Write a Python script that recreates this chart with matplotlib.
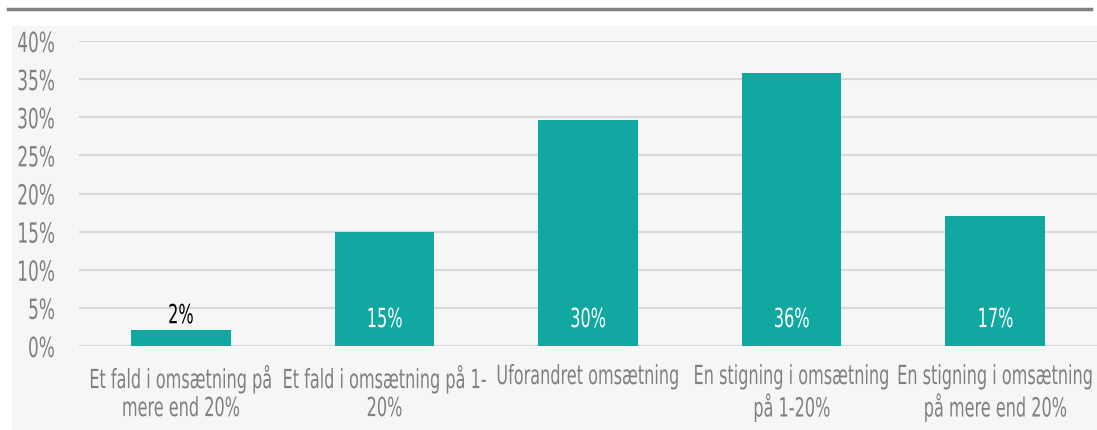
import matplotlib.pyplot as plt
from matplotlib.patches import Rectangle
from matplotlib.lines import Line2D
from matplotlib.ticker import PercentFormatter
from matplotlib.patheffects import AbstractPathEffect
from matplotlib.transforms import Affine2D

categories = ["Et fald i omsætning på\nmere end 20%",
              "Et fald i omsætning på 1-\n20%",
              "Uforandret omsætning",
              "En stigning i omsætning\npå 1-20%",
              "En stigning i omsætning\npå mere end 20%"]
values = [0.021, 0.150, 0.296, 0.358, 0.170]
labels = ["2%", "15%", "30%", "36%", "17%"]
yticks = [0, 0.05, 0.10, 0.15, 0.20, 0.25, 0.30, 0.35, 0.40]


# the original uses a very narrow font, so squeeze the glyphs sideways
class Squeeze(AbstractPathEffect):
    def __init__(self, sx, anchor='center'):
        super().__init__()
        self.sx = sx
        self.anchor = anchor

    def draw_path(self, renderer, gc, tpath, affine, rgbFace=None):
        ext = tpath.get_extents(affine)
        cx = ext.x1 if self.anchor == 'right' else (ext.x0 + ext.x1) / 2
        squeeze = Affine2D().translate(-cx, 0).scale(self.sx, 1).translate(cx, 0)
        renderer.draw_path(gc, tpath, affine + squeeze, rgbFace)


plt.rcParams['font.family'] = ['DejaVu Sans']
SX = 0.61

fig = plt.figure(figsize=(10.97, 4.30), dpi=100)

# light background panel and top rule
fig.patches.append(Rectangle((12/1097, 0), 1, 1 - 26/430, transform=fig.transFigure,
                             facecolor='#f6f6f6', edgecolor='none', zorder=-5))
fig.lines.append(Line2D([8/1097, 1091/1097], [1 - 9/430, 1 - 9/430], transform=fig.transFigure,
                        color='#808080', lw=2.5))

ax = fig.add_axes([79/1097, 84/430, 1 - 79/1097, 305/430])
ax.set_facecolor('none')
ax.set_zorder(2)

bar_color = '#12a8a2'
x = range(len(categories))
ax.bar(x, values, width=0.49, color=bar_color, zorder=3)

for i, (v, lab) in enumerate(zip(values, labels)):
    if v < 0.05:
        ax.text(i, v + 0.001, lab, ha='center', va='bottom', fontsize=19, color='black',
                zorder=4, path_effects=[Squeeze(SX)])
    else:
        ax.text(i, 0.034, lab, ha='center', va='center', fontsize=19, color='white',
                zorder=4, path_effects=[Squeeze(SX)])

ax.set_xlim(-0.5, len(categories) - 0.5)
ax.set_ylim(0, 0.40)
ax.set_yticks(yticks)
ax.yaxis.set_major_formatter(PercentFormatter(1.0, decimals=0))
ax.grid(axis='y', color='#d9d9d9', lw=1.5, zorder=1)
ax.set_axisbelow(True)
for s in ax.spines.values():
    s.set_visible(False)

ax.set_xticks(list(x))
ax.set_xticklabels(categories, fontsize=19, color='#808080', linespacing=1.1)
ax.tick_params(axis='x', length=0, pad=13)
ax.tick_params(axis='y', length=0, pad=17, labelsize=20, labelcolor='#808080')

for t in ax.get_xticklabels():
    t.set_path_effects([Squeeze(SX)])
for t in ax.get_yticklabels():
    t.set_path_effects([Squeeze(SX, 'right')])

fig.savefig('out.png', dpi=100)
